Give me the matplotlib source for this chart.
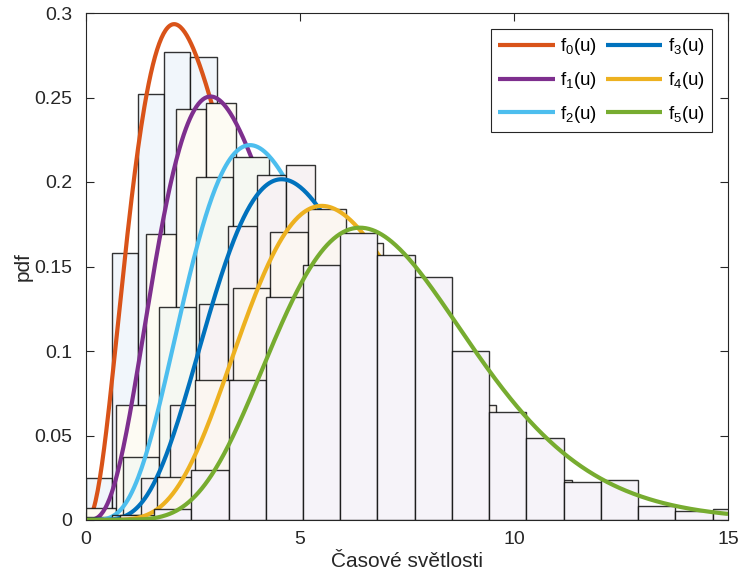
import math
import numpy as np
import matplotlib
matplotlib.use("Agg")
import matplotlib.pyplot as plt

plt.rcParams['font.family'] = ['Liberation Sans', 'DejaVu Sans']
plt.rcParams['mathtext.fontset'] = 'custom'
plt.rcParams['mathtext.rm'] = 'Liberation Sans'
plt.rcParams['mathtext.it'] = 'Liberation Sans'

# ---- data ----
labels = [r'f$_0$(u)', r'f$_1$(u)', r'f$_2$(u)', r'f$_3$(u)', r'f$_4$(u)', r'f$_5$(u)']
line_colors = ['#D95319', '#7E2F8E', '#4DBEEE', '#0072BD', '#EDB120', '#77AC30']
face_colors = ['#F1F6FB', '#FDFBF3', '#F5F8F2', '#F7F2F3', '#FBF6F1', '#F6F3F9']

# gamma pdf parameters of the fitted curves (shape, scale) and curve start
curve_shape = [3.455, 4.50, 5.70, 6.50, 7.75, 8.86]
curve_scale = [0.839, 0.831, 0.815, 0.831, 0.816, 0.814]
curve_start = [0.15, 0.18, 0.05, 0.0, 0.0, 0.0]
curve_end = 15.0

# histograms: first bin edge, bin width, bin heights (pdf normalised)
hist_start = [0.0, 0.0, 0.0, 0.60, -0.09, -0.15]
hist_width = [0.61, 0.70, 0.856, 0.68, 0.88, 0.87]
h0 = [0.025, 0.158, 0.252, 0.277, 0.274, 0.19, 0.13, 0.09, 0.05, 0.03, 0.015, 0.008]
h1 = [0.007, 0.068, 0.169, 0.243, 0.247, 0.20, 0.16, 0.12, 0.08, 0.05, 0.03, 0.015, 0.008, 0.004]
h2 = [0.002, 0.037, 0.126, 0.203, 0.215, 0.19, 0.15, 0.11, 0.07, 0.04, 0.02, 0.01]
h3 = [0.003, 0.025, 0.068, 0.128, 0.174, 0.204, 0.210, 0.17, 0.13, 0.10, 0.07, 0.045, 0.03, 0.015, 0.008]
h4 = [0.0, 0.003, 0.0254, 0.083, 0.137, 0.1705, 0.184, 0.164, 0.14, 0.095, 0.068, 0.045,
      0.0238, 0.012, 0.006, 0.003]
h5 = [0.0, 0.001, 0.0063, 0.0296, 0.0828, 0.132, 0.151, 0.170, 0.157, 0.1436, 0.1002,
      0.0641, 0.0483, 0.0227, 0.0237, 0.0085, 0.0053, 0.0063]
hist_heights = [h0, h1, h2, h3, h4, h5]

xticks = [0, 5, 10, 15]
yticks = [0, 0.05, 0.1, 0.15, 0.2, 0.25, 0.3]
ytick_labels = ['0', '0.05', '0.1', '0.15', '0.2', '0.25', '0.3']
xlabel = 'Časové světlosti'
ylabel = 'pdf'


def gamma_pdf(x, k, theta):
    return x ** (k - 1) * np.exp(-x / theta) / (math.gamma(k) * theta ** k)


fig = plt.figure(figsize=(7.39, 5.84), dpi=100)
ax = fig.add_axes([86 / 739, 1 - 520 / 584, (728 - 86) / 739, (520 - 13) / 584])

handles = []
for i in range(6):
    n = len(hist_heights[i])
    lefts = hist_start[i] + hist_width[i] * np.arange(n)
    ax.bar(lefts, hist_heights[i], width=hist_width[i], align='edge',
           facecolor=face_colors[i], edgecolor=(0, 0, 0, 0.8), linewidth=1.0,
           zorder=2 + 2 * i)
    x = np.linspace(curve_start[i], curve_end, 600)
    ln, = ax.plot(x, gamma_pdf(x, curve_shape[i], curve_scale[i]), color=line_colors[i],
                  lw=3.0, zorder=3 + 2 * i, solid_capstyle='butt')
    handles.append(ln)

ax.set_xlim(0, 15)
ax.set_ylim(0, 0.3)
ax.set_xticks(xticks)
ax.set_xticklabels([str(t) for t in xticks])
ax.set_yticks(yticks)
ax.set_yticklabels(ytick_labels)
ax.tick_params(direction='in', length=6, width=0.8, top=True, right=True,
               labelsize=14, colors='#262626')
ax.tick_params(axis='x', pad=8)
ax.tick_params(axis='y', pad=10)
for s in ax.spines.values():
    s.set_color('#262626')
    s.set_linewidth(0.8)
    s.set_zorder(30)
ax.set_xlabel(xlabel, fontsize=15, color='#262626', labelpad=3)
ax.set_ylabel(ylabel, fontsize=15, color='#262626', labelpad=1)

leg = ax.legend(handles, labels, ncol=2, loc='upper right', fontsize=13.5,
                frameon=True, fancybox=False, framealpha=1, edgecolor='#262626',
                handlelength=3.0, handletextpad=0.3, columnspacing=0.45,
                labelspacing=0.68, borderpad=0.4, borderaxespad=0.85)
leg.get_frame().set_linewidth(0.8)
leg.set_zorder(40)

fig.savefig('out.png', dpi=100)
